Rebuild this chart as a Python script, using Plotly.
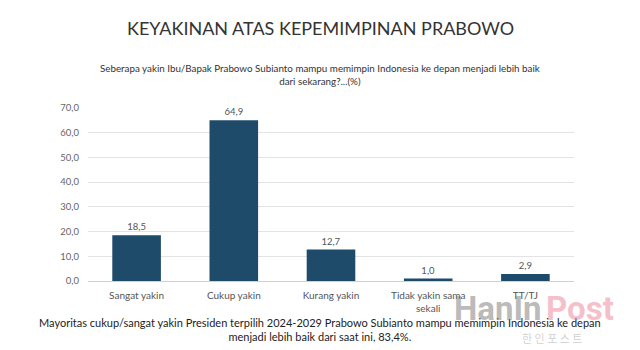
import plotly.graph_objects as go

categories = ["Sangat yakin", "Cukup yakin", "Kurang yakin", "Tidak yakin sama<br>sekali", "TT/TJ"]
values = [18.5, 64.9, 12.7, 1.0, 2.9]
tick_vals = [0, 10, 20, 30, 40, 50, 60, 70]
tick_text = ["0,0", "10,0", "20,0", "30,0", "40,0", "50,0", "60,0", "70,0"]
labels = [f"{v:.1f}".replace(".", ",") for v in values]

FONT = "Lato"

fig = go.Figure()
fig.add_trace(go.Bar(
    x=categories, y=values, width=0.5,
    marker=dict(color="#1f4b6b", line=dict(width=0)),
    text=labels, textposition="outside",
    textfont=dict(family=FONT, size=9.5, color="#555555"),
    cliponaxis=False,
))

fig.update_layout(
    width=640, height=350,
    margin=dict(l=0, r=0, t=0, b=0),
    paper_bgcolor="white", plot_bgcolor="white",
    showlegend=False,
    xaxis=dict(domain=[88/640, 574/640], showgrid=False, zeroline=False,
               showline=False, ticks="", ticklabelstandoff=7,
               tickfont=dict(family=FONT, size=10, color="#555555")),
    yaxis=dict(domain=[(350-284)/350, (350-105)/350], range=[0, 70],
               tickvals=tick_vals, ticktext=tick_text,
               showgrid=True, gridcolor="#e3e3e3", gridwidth=1,
               zeroline=True, zerolinecolor="#d0d0d0", zerolinewidth=1,
               showline=False, ticks="", ticklabelstandoff=8,
               tickfont=dict(family=FONT, size=9.5, color="#666666")),
    font=dict(family=FONT),
)

def ann(text, x, ypx, size, color, family=FONT, xanchor="center"):
    fig.add_annotation(text=text, x=x, y=1 - ypx/350, xref="paper", yref="paper",
                       showarrow=False, xanchor=xanchor, yanchor="middle", align="center",
                       font=dict(family=family, size=size, color=color))

ann("KEYAKINAN ATAS KEPEMIMPINAN PRABOWO", 0.5, 23, 18, "#333333")
ann("Seberapa yakin Ibu/Bapak Prabowo Subianto mampu memimpin Indonesia ke depan menjadi lebih baik<br>dari sekarang?...(%)",
    0.5, 71, 9.8, "#333333")
ann("Mayoritas cukup/sangat yakin Presiden terpilih 2024-2029 Prabowo Subianto mampu memimpin Indonesia ke depan<br>menjadi lebih baik dari saat ini, 83,4%.",
    0.5, 334, 11, "#222222")
# watermark
WM = "Liberation Sans Narrow, Roboto"
ann("<b>HanIn</b>", 544/640, 312, 33, "rgba(120,120,120,0.5)", WM, "right")
ann("<b>Post</b>", 544/640, 312, 33, "rgba(235,130,150,0.5)", WM, "left")
ann("한 인 포 스 트", 552/640, 343, 11, "rgba(150,150,150,0.45)", "Noto Sans CJK KR")

fig.write_html("out.html")
